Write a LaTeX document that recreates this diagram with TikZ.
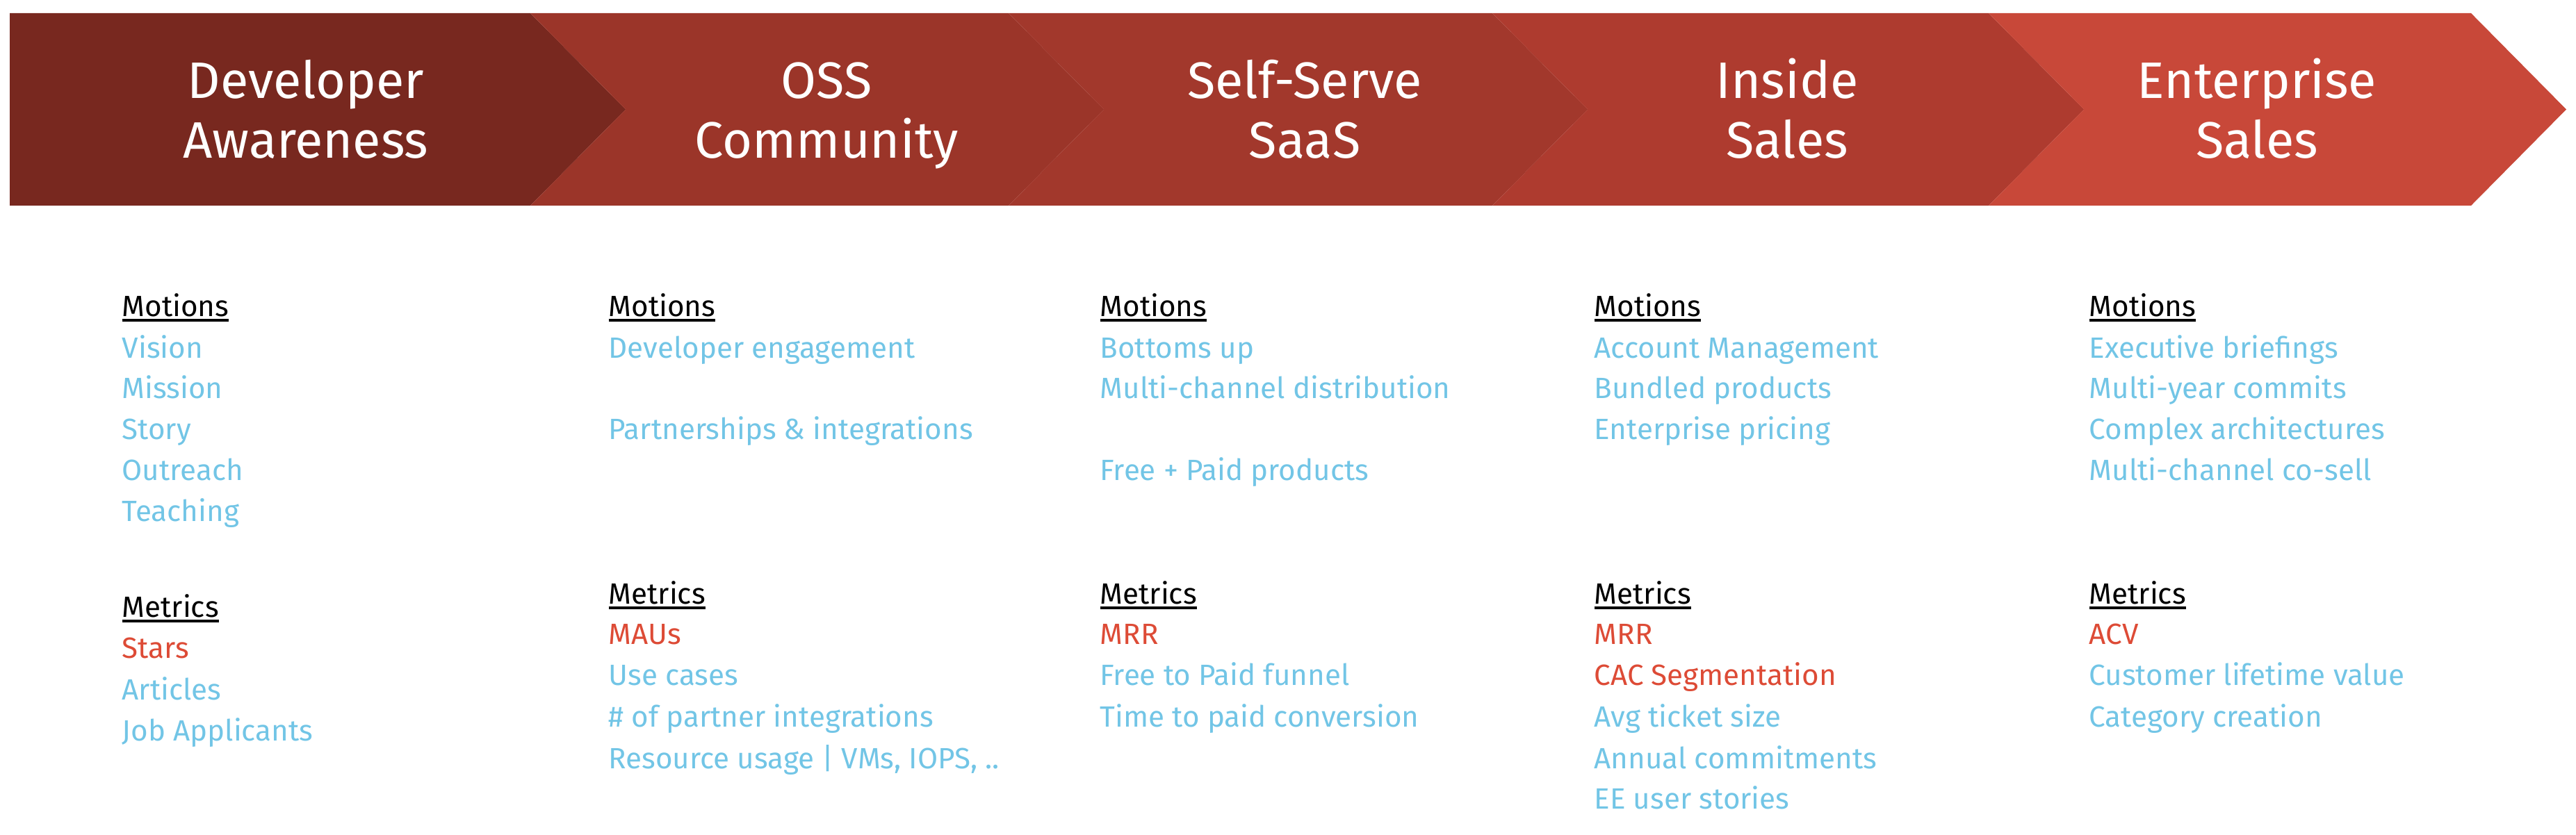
\documentclass[tikz,border=0pt]{standalone}
\usepackage{fontspec}
\setmainfont{Fira Sans}
\definecolor{cA}{HTML}{78281F}
\definecolor{cB}{HTML}{9B3529}
\definecolor{cC}{HTML}{A2382C}
\definecolor{cD}{HTML}{AE3B2F}
\definecolor{cE}{HTML}{C84839}
\definecolor{blueitem}{HTML}{72C5E6}
\definecolor{reditem}{HTML}{DD4B36}
\newcommand\hdrline[1]{\setbox0\hbox{#1}\rlap{\rule[-1.9pt]{\wd0}{0.95pt}}\box0}
\tikzset{
  chev/.style={draw=none},
  title/.style={text=white, align=center, inner sep=0pt, font=\fontsize{21}{24.5}\selectfont},
  txt/.style={anchor=base west, inner sep=0pt, font=\fontsize{12}{14}\selectfont},
  hdr/.style={txt, text=black},
  item/.style={txt, text=blueitem},
  key/.style={txt, text=reditem}
}
\begin{document}
\begin{tikzpicture}
\useasboundingbox (0,0) rectangle (37.06,-12.02);
\def\T{-0.19}\def\B{-2.96}\def\M{-1.575}
\fill[cA] (0.14,\T) -- (7.63,\T) -- (9.00,\M) -- (7.63,\B) -- (0.14,\B) -- cycle;
\fill[cB] (7.63,\T) -- (14.51,\T) -- (15.88,\M) -- (14.51,\B) -- (7.63,\B) -- (9.00,\M) -- cycle;
\fill[cC] (14.51,\T) -- (21.47,\T) -- (22.84,\M) -- (21.47,\B) -- (14.51,\B) -- (15.88,\M) -- cycle;
\fill[cD] (21.47,\T) -- (28.61,\T) -- (29.98,\M) -- (28.61,\B) -- (21.47,\B) -- (22.84,\M) -- cycle;
\fill[cE] (28.61,\T) -- (35.55,\T) -- (36.92,\M) -- (35.55,\B) -- (28.61,\B) -- (29.98,\M) -- cycle;

\node[title, anchor=base] (t1) at (4.40,-2.28) {Developer\\Awareness};
\node[title, anchor=base] (t2) at (11.89,-2.28) {OSS\\Community};
\node[title, anchor=base] (t3) at (18.77,-2.28) {Self-Serve\\SaaS};
\node[title, anchor=base] (t4) at (25.71,-2.28) {Inside\\Sales};
\node[title, anchor=base] (t5) at (32.47,-2.28) {Enterprise\\Sales};

% column 1
\node[hdr] (m1) at (1.75,-4.56) {\hdrline{Motions}};
\node[item] (m1a) at (1.75,-5.16) {Vision};
\node[item] (m1b) at (1.75,-5.74) {Mission};
\node[item] (m1c) at (1.75,-6.33) {Story};
\node[item] (m1d) at (1.75,-6.92) {Outreach};
\node[item] (m1e) at (1.75,-7.51) {Teaching};
\node[hdr] (k1) at (1.75,-8.89) {\hdrline{Metrics}};
\node[key] (k1a) at (1.75,-9.48) {Stars};
\node[item] (k1b) at (1.75,-10.07) {Articles};
\node[item] (k1c) at (1.75,-10.67) {Job Applicants};

% column 2
\node[hdr] (m2) at (8.75,-4.56) {\hdrline{Motions}};
\node[item] (m2a) at (8.75,-5.16) {Developer engagement};
\node[item] (m2b) at (8.75,-6.33) {Partnerships \& integrations};
\node[hdr] (k2) at (8.75,-8.70) {\hdrline{Metrics}};
\node[key] (k2a) at (8.75,-9.28) {MAUs};
\node[item] (k2b) at (8.75,-9.87) {Use cases};
\node[item] (k2c) at (8.75,-10.47) {\# of partner integrations};
\node[item] (k2d) at (8.75,-11.06) {Resource usage | VMs, IOPS, ..};

% column 3
\node[hdr] (m3) at (15.82,-4.56) {\hdrline{Motions}};
\node[item] (m3a) at (15.82,-5.16) {Bottoms up};
\node[item] (m3b) at (15.82,-5.74) {Multi-channel distribution};
\node[item] (m3c) at (15.82,-6.92) {Free + Paid products};
\node[hdr] (k3) at (15.82,-8.70) {\hdrline{Metrics}};
\node[key] (k3a) at (15.82,-9.28) {MRR};
\node[item] (k3b) at (15.82,-9.87) {Free to Paid funnel};
\node[item] (k3c) at (15.82,-10.47) {Time to paid conversion};

% column 4
\node[hdr] (m4) at (22.93,-4.56) {\hdrline{Motions}};
\node[item] (m4a) at (22.93,-5.16) {Account Management};
\node[item] (m4b) at (22.93,-5.74) {Bundled products};
\node[item] (m4c) at (22.93,-6.33) {Enterprise pricing};
\node[hdr] (k4) at (22.93,-8.70) {\hdrline{Metrics}};
\node[key] (k4a) at (22.93,-9.28) {MRR};
\node[key] (k4b) at (22.93,-9.87) {CAC Segmentation};
\node[item] (k4c) at (22.93,-10.47) {Avg ticket size};
\node[item] (k4d) at (22.93,-11.06) {Annual commitments};
\node[item] (k4e) at (22.93,-11.65) {EE user stories};

% column 5
\node[hdr] (m5) at (30.05,-4.56) {\hdrline{Motions}};
\node[item] (m5a) at (30.05,-5.16) {Executive briefings};
\node[item] (m5b) at (30.05,-5.74) {Multi-year commits};
\node[item] (m5c) at (30.05,-6.33) {Complex architectures};
\node[item] (m5d) at (30.05,-6.92) {Multi-channel co-sell};
\node[hdr] (k5) at (30.05,-8.70) {\hdrline{Metrics}};
\node[key] (k5a) at (30.05,-9.28) {ACV};
\node[item] (k5b) at (30.05,-9.87) {Customer lifetime value};
\node[item] (k5c) at (30.05,-10.47) {Category creation};
\end{tikzpicture}
\end{document}
